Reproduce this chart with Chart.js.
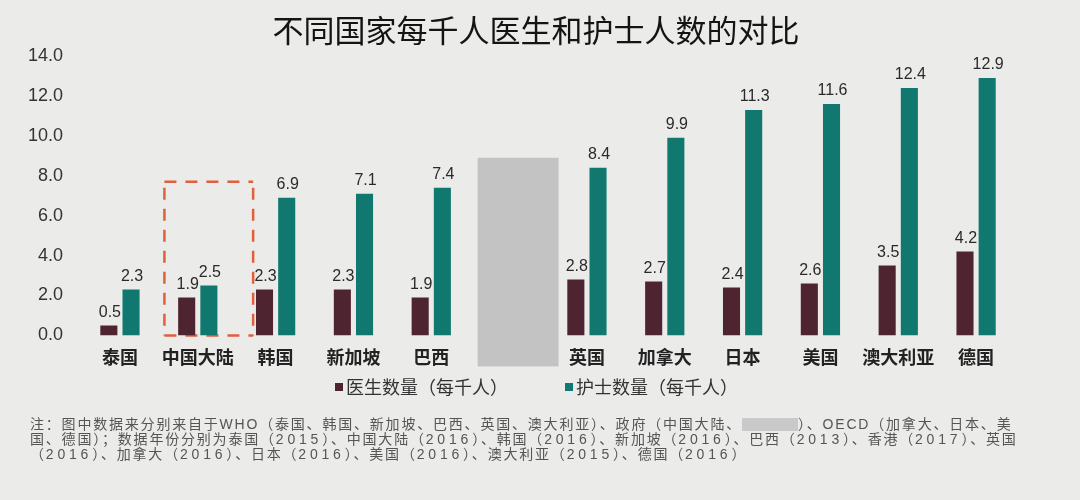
<!DOCTYPE html>
<html>
<head>
<meta charset="utf-8">
<script src="https://cdn.jsdelivr.net/npm/chart.js@4.4.1/dist/chart.umd.min.js"></script>
<style>
  html, body { margin:0; padding:0; background:#ebebea; }
  #wrap { position:relative; width:1080px; height:500px; overflow:hidden; background:#ebebea; }
  #c { position:absolute; left:0; top:0; }
  #note { position:absolute; left:30px; top:417px; font-family:"Liberation Sans","Noto Sans CJK SC",sans-serif;
          font-size:14px; line-height:15px; color:#555; white-space:nowrap; letter-spacing:1.8px; }
  #note .n { letter-spacing:3.8px; }
  .red { display:inline-block; width:56px; height:13px; background:#c9c9c9; vertical-align:-2px; }
</style>
</head>
<body>
<div id="wrap">
  <canvas id="c" width="1080" height="500"></canvas>
  <div id="note">注：图中数据来分别来自于WHO（泰国、韩国、新加坡、巴西、英国、澳大利亚）、政府（中国大陆、<span class="red"></span>）、OECD（加拿大、日本、美<br>国、德国）；数据年份分别为泰国（<span class="n">2015</span>）、中国大陆（<span class="n">2016</span>）、韩国（<span class="n">2016</span>）、新加坡（<span class="n">2016</span>）、巴西（<span class="n">2013</span>）、香港（<span class="n">2017</span>）、英国<br>（<span class="n">2016</span>）、加拿大（<span class="n">2016</span>）、日本（<span class="n">2016</span>）、美国（<span class="n">2016</span>）、澳大利亚（<span class="n">2015</span>）、德国（<span class="n">2016</span>）</div>
</div>
<script>
const categories = ['泰国','中国大陆','韩国','新加坡','巴西','','英国','加拿大','日本','美国','澳大利亚','德国'];
const doctors = [0.5, 1.9, 2.3, 2.3, 1.9, null, 2.8, 2.7, 2.4, 2.6, 3.5, 4.2];
const nurses  = [2.3, 2.5, 6.9, 7.1, 7.4, null, 8.4, 9.9, 11.3, 11.6, 12.4, 12.9];
const seriesNames = ['医生数量（每千人）','护士数量（每千人）'];
const seriesColors = ['#4e2430', '#11786f'];
const titleText = '不同国家每千人医生和护士人数的对比';
const highlightIndex = 1;   // 中国大陆
const maskedIndex = 5;      // redacted category

const CJK = '"Noto Sans CJK SC","Noto Sans",sans-serif';
const LAT = '"Liberation Sans",Arial,sans-serif';

const overlayPlugin = {
  id: 'overlay',
  beforeDatasetsDraw(chart) {
    const {ctx, scales:{x, y}} = chart;
    const step = x.getPixelForValue(1) - x.getPixelForValue(0);
    const cx = x.getPixelForValue(highlightIndex) + 11;
    const hw = step * 0.57;
    const top = y.getPixelForValue(7.7);
    const bot = y.getPixelForValue(0);
    ctx.save();
    ctx.strokeStyle = '#e0603c';
    ctx.lineWidth = 2.5;
    ctx.setLineDash([12, 9]);
    ctx.beginPath();
    ctx.moveTo(cx - hw, top); ctx.lineTo(cx + hw, top);
    ctx.moveTo(cx - hw, top + 6); ctx.lineTo(cx - hw, bot);
    ctx.moveTo(cx + hw, top + 6); ctx.lineTo(cx + hw, bot);
    ctx.moveTo(cx - hw, bot); ctx.lineTo(cx + hw, bot);
    ctx.stroke();
    ctx.restore();
  },
  afterDraw(chart) {
    const {ctx, chartArea, scales:{x, y}} = chart;
    const step = x.getPixelForValue(1) - x.getPixelForValue(0);
    // title
    ctx.save();
    ctx.font = 'normal 31px ' + CJK;
    ctx.fillStyle = '#141414';
    ctx.textAlign = 'center';
    ctx.textBaseline = 'middle';
    ctx.fillText(titleText, 536, 30);
    // masked category
    const mx = x.getPixelForValue(maskedIndex) + 9;
    const mw = step * 1.04;
    const mtop = y.getPixelForValue(8.9);
    const mbot = chartArea.bottom + 31;
    ctx.fillStyle = '#c3c3c3';
    ctx.fillRect(mx - mw/2, mtop, mw, mbot - mtop);
    // value labels
    ctx.font = '16px ' + LAT;
    ctx.fillStyle = '#2a2a2a';
    ctx.textAlign = 'center';
    ctx.textBaseline = 'bottom';
    chart.data.datasets.forEach((ds, di) => {
      const meta = chart.getDatasetMeta(di);
      meta.data.forEach((bar, i) => {
        const v = ds.data[i];
        if (v === null || v === undefined) return;
        ctx.fillText(v.toFixed(1), bar.x + 1, bar.y - 5);
      });
    });
    // legend
    ctx.font = '18px ' + CJK;
    ctx.textAlign = 'left';
    ctx.textBaseline = 'middle';
    const legendX = [335, 565];
    chart.data.datasets.forEach((ds, di) => {
      ctx.fillStyle = ds.backgroundColor;
      ctx.fillRect(legendX[di], 383, 8, 8);
      ctx.fillStyle = '#333';
      ctx.fillText(ds.label, legendX[di] + 11, 387);
    });
    ctx.restore();
  }
};

new Chart(document.getElementById('c'), {
  type: 'bar',
  data: {
    labels: categories,
    datasets: [
      { label: seriesNames[0], data: doctors, backgroundColor: seriesColors[0] },
      { label: seriesNames[1], data: nurses, backgroundColor: seriesColors[1] }
    ]
  },
  options: {
    responsive: false,
    animation: false,
    devicePixelRatio: 1,
    datasets: { bar: { categoryPercentage: 0.57, barPercentage: 0.77 } },
    layout: { padding: { left: 10, right: 65, top: 56, bottom: 121 } },
    plugins: {
      title: { display: false },
      legend: { display: false },
      tooltip: { enabled: false }
    },
    scales: {
      x: {
        grid: { display: false, drawTicks: false },
        border: { display: false },
        ticks: { color: '#222', font: { family: CJK, size: 18, weight: 'bold' }, padding: 11,
                 maxRotation: 0, minRotation: 0, autoSkip: false }
      },
      y: {
        min: 0, max: 14,
        grid: { display: false, drawTicks: false },
        border: { display: false },
        ticks: {
          stepSize: 2, color: '#333', padding: 18,
          font: { family: LAT, size: 18 },
          callback: v => Number(v).toFixed(1)
        }
      }
    }
  },
  plugins: [overlayPlugin]
});
</script>
</body>
</html>
